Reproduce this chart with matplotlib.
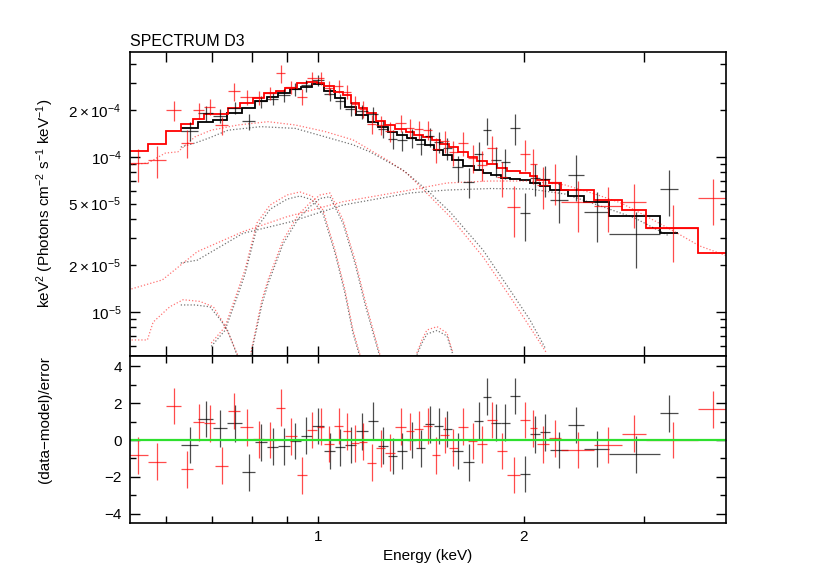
import numpy as np
import matplotlib
matplotlib.use("Agg")
import matplotlib.pyplot as plt
from matplotlib.ticker import FixedLocator, FixedFormatter

plt.rcParams['font.family'] = ['Liberation Sans', 'DejaVu Sans']
plt.rcParams['mathtext.fontset'] = 'custom'
plt.rcParams['mathtext.rm'] = 'Liberation Sans'
plt.rcParams['mathtext.it'] = 'Liberation Sans:italic'

SCALE = 1e-4  # spectrum values below are in units of 1e-4

# ---- black spectrum (bins in keV) ----
black_edges = [0.630, 0.668, 0.702, 0.736, 0.774, 0.809, 0.842, 0.874, 0.910, 0.944,
               0.980, 1.020, 1.059, 1.095, 1.137, 1.183, 1.224, 1.266, 1.305, 1.349,
               1.391, 1.434, 1.478, 1.523, 1.570, 1.629, 1.691, 1.743, 1.790, 1.851,
               1.908, 1.974, 2.041, 2.111, 2.184, 2.320, 2.448, 2.664, 3.162, 3.360]
black_model = [1.53, 1.69, 1.73, 1.91, 2.06, 2.31, 2.45, 2.58, 2.75, 2.84,
               2.94, 2.68, 2.39, 2.11, 1.87, 1.69, 1.57, 1.46, 1.39, 1.32,
               1.29, 1.195, 1.11, 1.03, 0.956, 0.875, 0.824, 0.79, 0.76, 0.735,
               0.72, 0.710, 0.677, 0.650, 0.612, 0.563, 0.515, 0.416, 0.325]
black_data = [1.476, 1.921, 1.850, 2.082, 1.697, 2.283, 2.371, 2.503, 2.738, 2.899,
              3.141, 2.535, 2.294, 2.053, 1.969, 1.903, 1.512, 1.308, 1.281, 1.32,
              1.209, 1.357, 1.254, 1.141, 0.858, 0.695, 1.040, 1.495, 0.957, 0.928,
              1.542, 0.434, 0.729, 0.718, 0.529, 0.771, 0.439, 0.318, 0.619]
black_err = [0.199, 0.203, 0.190, 0.191, 0.206, 0.208, 0.221, 0.232, 0.248, 0.256,
             0.265, 0.241, 0.239, 0.211, 0.206, 0.203, 0.188, 0.175, 0.181, 0.185,
             0.181, 0.191, 0.189, 0.185, 0.163, 0.149, 0.206, 0.30, 0.21, 0.205,
             0.344, 0.149, 0.169, 0.163, 0.153, 0.253, 0.155, 0.125, 0.203]
black_resid = [-0.27, 1.14, 0.63, 0.90, -1.76, -0.13, -0.36, -0.33, -0.05, 0.23,
               0.76, -0.60, -0.40, -0.27, 0.48, 1.05, -0.31, -0.87, -0.60, 0.0,
               -0.45, 0.85, 0.76, 0.60, -0.60, -1.21, 1.05, 2.35, 0.94, 0.94,
               2.39, -1.85, 0.31, 0.42, -0.54, 0.82, -0.49, -0.78, 1.45]

# ---- red spectrum ----
red_edges = [0.528, 0.564, 0.600, 0.630, 0.657, 0.681, 0.707, 0.739, 0.769, 0.804,
             0.834, 0.868, 0.895, 0.932, 0.964, 0.997, 1.020, 1.055, 1.088, 1.117,
             1.148, 1.179, 1.216, 1.253, 1.296, 1.345, 1.382, 1.424, 1.468, 1.508,
             1.554, 1.602, 1.657, 1.708, 1.766, 1.826, 1.889, 1.974, 2.041, 2.090,
             2.176, 2.266, 2.532, 2.783, 3.017, 3.594, 3.963]
red_model = [1.09, 1.21, 1.47, 1.64, 1.76, 1.89, 1.89, 2.08, 2.24, 2.41,
             2.58, 2.67, 2.77, 2.99, 3.06, 3.02, 2.87, 2.64, 2.51, 2.24,
             2.06, 1.93, 1.71, 1.61, 1.51, 1.44, 1.39, 1.34, 1.29, 1.21,
             1.155, 1.08, 1.00, 0.942, 0.901, 0.85, 0.81, 0.785, 0.754, 0.711,
             0.676, 0.612, 0.528, 0.455, 0.350, 0.241]
red_data = [0.911, 0.953, 2.014, 1.24, 2.0, 2.11, 1.599, 2.65, 2.428, 2.422,
            2.58, 3.46, 2.825, 2.452, 3.228, 3.237, 2.807, 2.86, 2.642, 2.192,
            2.035, 1.645, 1.61, 1.466, 1.662, 1.544, 1.511, 1.503, 1.121, 1.266,
            1.073, 1.236, 0.99, 0.894, 1.146, 0.738, 0.479, 1.047, 0.896, 0.663,
            0.694, 0.513, 0.485, 0.509, 0.35, 0.542]
red_err = [0.218, 0.218, 0.294, 0.25, 0.246, 0.246, 0.208, 0.36, 0.269, 0.241,
           0.258, 0.45, 0.277, 0.28, 0.306, 0.302, 0.287, 0.29, 0.276, 0.269,
           0.247, 0.232, 0.222, 0.209, 0.211, 0.216, 0.209, 0.214, 0.206, 0.206,
           0.196, 0.216, 0.20, 0.198, 0.225, 0.186, 0.174, 0.24, 0.226, 0.199,
           0.203, 0.184, 0.158, 0.159, 0.14, 0.179]
red_resid = [-0.82, -1.18, 1.85, -1.60, 0.96, 0.90, -1.40, 1.58, 0.70, 0.05,
             0.0, 1.75, 0.20, -1.92, 0.55, 0.72, -0.22, 0.76, 0.48, -0.18,
             -0.10, -1.23, -0.45, -0.69, 0.72, 0.48, 0.58, 0.76, -0.82, 0.27,
             -0.42, 0.72, -0.05, -0.24, 1.09, -0.60, -1.90, 1.09, 0.63, -0.24,
             0.09, -0.54, -0.27, 0.34, 0.0, 1.68]

# ---- model components (dotted), energies in keV, values absolute ----
broad_e_red = [0.528, 0.564, 0.598, 0.624, 0.661, 0.698, 0.764, 0.845, 0.926, 1.024,
               1.125, 1.262, 1.349, 1.443, 1.560, 1.743, 1.908, 2.041, 2.161]
broad_red = [8.88e-5, 9.15e-5, 1.06e-4, 1.08e-4, 1.35e-4, 1.49e-4, 1.61e-4, 1.69e-4, 1.61e-4, 1.46e-4,
             1.29e-4, 9.56e-5, 7.85e-5, 5.83e-5, 4.12e-5, 2.27e-5, 1.26e-5, 8.0e-6, 5.4e-6]
broad_e_black = [0.630, 0.661, 0.691, 0.739, 0.825, 0.926, 1.024, 1.125, 1.191, 1.331,
                 1.443, 1.560, 1.743, 1.908, 2.041, 2.147]
broad_black = [1.16e-4, 1.23e-4, 1.32e-4, 1.49e-4, 1.57e-4, 1.53e-4, 1.35e-4, 1.20e-4, 1.08e-4, 8.24e-5,
               6.12e-5, 4.42e-5, 2.51e-5, 1.39e-5, 8.9e-6, 5.9e-6]

rise_e_red = [0.528, 0.592, 0.666, 0.777, 0.901, 1.088, 1.363, 1.544, 1.783, 2.041,
              2.297, 2.541, 2.774, 2.977, 3.290, 3.613, 3.963]
rise_red = [1.39e-5, 1.61e-5, 2.45e-5, 3.30e-5, 4.12e-5, 5.15e-5, 6.12e-5, 6.80e-5, 7.0e-5, 7.0e-5,
            6.6e-5, 5.77e-5, 5.05e-5, 4.29e-5, 3.38e-5, 2.67e-5, 2.30e-5]
rise_e_black = [0.630, 0.666, 0.777, 0.910, 1.088, 1.363, 1.544, 1.783, 2.041, 2.297,
                2.541, 2.905, 3.263]
rise_black = [2.07e-5, 2.16e-5, 3.22e-5, 3.81e-5, 4.90e-5, 5.86e-5, 6.12e-5, 6.26e-5, 6.22e-5, 5.77e-5,
              4.97e-5, 4.04e-5, 3.09e-5]

bump_e_red = [0.528, 0.563, 0.574, 0.607, 0.635, 0.672, 0.703, 0.727, 0.744, 0.761, 0.769]
bump_red = [6.6e-6, 6.6e-6, 8.6e-6, 1.08e-5, 1.20e-5, 1.17e-5, 1.08e-5, 8.5e-6, 6.9e-6, 5.4e-6, 5.05e-6]
bump_e_black = [0.630, 0.661, 0.695, 0.720, 0.737, 0.752, 0.764]
bump_black = [1.11e-5, 1.11e-5, 1.08e-5, 8.9e-6, 7.65e-6, 6.1e-6, 5.05e-6]

gaussA_e = [0.698, 0.731, 0.764, 0.782, 0.814, 0.851, 0.901, 0.941, 0.980, 1.017,
            1.059, 1.095, 1.125, 1.152]
gaussA_red = [6.3e-6, 8.0e-6, 1.39e-5, 1.87e-5, 3.75e-5, 4.90e-5, 5.69e-5, 5.95e-5, 5.60e-5, 4.55e-5,
              2.51e-5, 1.39e-5, 7.65e-6, 5.28e-6]
gaussA_black = [6.0e-6, 7.6e-6, 1.30e-5, 1.75e-5, 3.5e-5, 4.6e-5, 5.35e-5, 5.6e-5, 5.3e-5, 4.3e-5,
                2.4e-5, 1.32e-5, 7.3e-6, 5.1e-6]

gaussB_e = [0.798, 0.828, 0.845, 0.889, 0.935, 0.973, 1.007, 1.041, 1.088, 1.133,
            1.171, 1.204, 1.232]
gaussB_red = [5.5e-6, 1.20e-5, 1.61e-5, 2.91e-5, 4.22e-5, 5.05e-5, 5.69e-5, 5.86e-5, 3.92e-5, 2.16e-5,
              1.20e-5, 7.65e-6, 5.28e-6]
gaussB_black = [5.3e-6, 1.12e-5, 1.52e-5, 2.75e-5, 3.98e-5, 4.78e-5, 5.4e-5, 5.55e-5, 3.72e-5, 2.05e-5,
                1.13e-5, 7.3e-6, 5.1e-6]

line15_e = [1.395, 1.419, 1.443, 1.493, 1.544, 1.575]
line15_red = [5.44e-6, 6.6e-6, 7.65e-6, 8.04e-6, 7.32e-6, 5.44e-6]
line15_black = [5.3e-6, 6.3e-6, 7.2e-6, 7.6e-6, 7.0e-6, 5.3e-6]

RED = '#ff0000'
BLACK = '#000000'


def bins(edges):
    edges = np.asarray(edges)
    return 0.5 * (edges[1:] + edges[:-1]), 0.5 * (edges[1:] - edges[:-1])


fig = plt.figure(figsize=(8.3, 5.87), dpi=100)
W, H = 830.0, 587.0
ax1 = fig.add_axes([130 / W, 1 - 356 / H, 596 / W, 304 / H])
ax2 = fig.add_axes([130 / W, 1 - 523 / H, 596 / W, 167 / H], sharex=ax1)

dot = dict(ls=(0, (1, 1.6)), lw=0.9, alpha=0.55)
for e, v, c in [(broad_e_red, broad_red, RED), (broad_e_black, broad_black, BLACK),
                (rise_e_red, rise_red, RED), (rise_e_black, rise_black, BLACK),
                (bump_e_red, bump_red, RED), (bump_e_black, bump_black, BLACK),
                (gaussA_e, gaussA_red, RED), (gaussA_e, gaussA_black, BLACK),
                (gaussB_e, gaussB_red, RED), (gaussB_e, gaussB_black, BLACK),
                (line15_e, line15_red, RED), (line15_e, line15_black, BLACK)]:
    ax1.plot(e, v, color=c, **dot)

for edges, data, err, model, resid, c in [
        (black_edges, black_data, black_err, black_model, black_resid, BLACK),
        (red_edges, red_data, red_err, red_model, red_resid, RED)]:
    xc, xw = bins(edges)
    ax1.errorbar(xc, np.array(data) * SCALE, xerr=xw, yerr=np.array(err) * SCALE,
                 fmt='none', ecolor=c, elinewidth=0.9, alpha=0.7)
    ax1.stairs(np.array(model) * SCALE, edges, baseline=None, color=c, lw=1.3)
    ax2.errorbar(xc, resid, xerr=xw, yerr=1.0, fmt='none', ecolor=c,
                 elinewidth=0.9, alpha=0.7)

ax2.axhline(0, color='#2ee02e', lw=1.6)

# axes
ax1.set_xscale('log')
ax1.set_yscale('log')
ax1.set_xlim(0.531, 3.95)
ax1.set_ylim(5.2e-6, 4.76e-4)
ax2.set_ylim(-4.51, 4.57)

xt = [0.6, 0.7, 0.8, 0.9, 1, 2, 3]
ax2.xaxis.set_major_locator(FixedLocator(xt))
ax2.xaxis.set_major_formatter(FixedFormatter(['', '', '', '', '1', '2', '']))
ax2.xaxis.set_minor_locator(FixedLocator([]))
ax1.tick_params(axis='x', which='both', labelbottom=False)

ax1.yaxis.set_major_locator(FixedLocator([1e-5, 1e-4]))
ax1.yaxis.set_major_formatter(FixedFormatter([r'$10^{-5}$', r'$10^{-4}$']))
ymin = [6e-6, 7e-6, 8e-6, 9e-6, 2e-5, 3e-5, 4e-5, 5e-5, 6e-5, 7e-5, 8e-5, 9e-5,
        2e-4, 3e-4, 4e-4]
ymin_lab = ['', '', '', '', r'$2\times10^{-5}$', '', '', r'$5\times10^{-5}$', '', '', '', '',
            r'$2\times10^{-4}$', '', '']
ax1.yaxis.set_minor_locator(FixedLocator(ymin))
ax1.yaxis.set_minor_formatter(FixedFormatter(ymin_lab))

ax2.yaxis.set_major_locator(FixedLocator([-4, -2, 0, 2, 4]))
ax2.yaxis.set_major_formatter(FixedFormatter(['\u22124', '\u22122', '0', '2', '4']))
ax2.yaxis.set_minor_locator(FixedLocator([-3, -1, 1, 3]))

for ax in (ax1, ax2):
    ax.tick_params(which='both', direction='in', top=True, right=True,
                   labelsize=11, width=1.0, colors='black')
    ax.tick_params(which='major', length=7, pad=6)
    ax.tick_params(which='minor', length=4, pad=6)
    for s in ax.spines.values():
        s.set_linewidth(1.2)
ax2.tick_params(axis='x', which='major', length=5, pad=5)

fig.text(130 / W, 1 - 46 / H, 'SPECTRUM D3', fontsize=11.5, ha='left', va='baseline')
fig.text(45 / W, 1 - 203 / H, r'keV$^{2}$ (Photons cm$^{-2}$ s$^{-1}$ keV$^{-1}$)',
         rotation=90, fontsize=11, ha='center', va='center')
fig.text(45 / W, 1 - 420 / H, '(data\u2212model)/error', rotation=90, fontsize=11,
         ha='center', va='center')
fig.text(428 / W, 1 - 556 / H, 'Energy (keV)', fontsize=11, ha='center', va='center')

fig.savefig('out.png', dpi=100)
